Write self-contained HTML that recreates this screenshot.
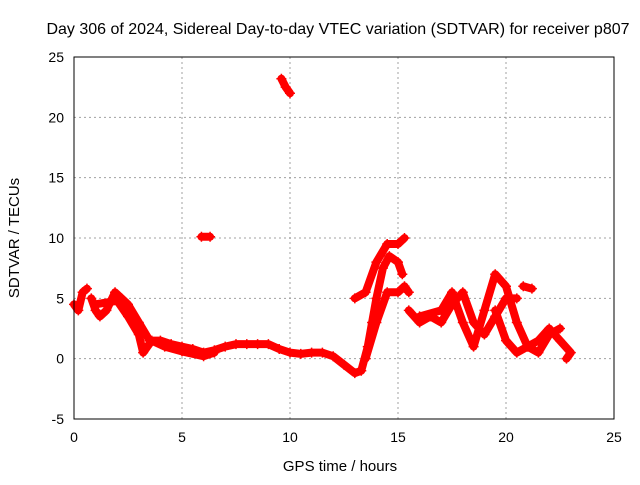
<!DOCTYPE html>
<html><head><meta charset="utf-8"><style>
body{margin:0;background:#fff;width:640px;height:480px;overflow:hidden}
text{font-family:"Liberation Sans",sans-serif;font-size:14px;fill:#000}
</style></head><body>
<svg id="chart" width="640" height="480" xmlns="http://www.w3.org/2000/svg">
<text x="338" y="34" text-anchor="middle" style="font-size:16px">Day 306 of 2024, Sidereal Day-to-day VTEC variation (SDTVAR) for receiver p807</text>
<text x="340" y="471" text-anchor="middle" style="font-size:15px">GPS time / hours</text>
<text transform="translate(19,238) rotate(-90)" text-anchor="middle" style="font-size:15px">SDTVAR / TECUs</text>
<g id="grid"></g><g id="ticks"></g><g id="marks"></g>
<rect x="74" y="57" width="540" height="362" fill="none" stroke="#000" stroke-width="1"/>
</svg>
<script>
const xTicks=[0,5,10,15,20,25];
const yTicks=[-5,0,5,10,15,20,25];
const trackStart=[[0,4.5],[0.2,4],[0.4,5.5],[0.6,5.8]];
const trackMain=[[0.8,5],[1,4],[1.2,3.5],[1.5,4],[1.9,5.5],[2.2,5],[2.5,4.5],[3,3],[3.5,1.5],[4,1.5],[4.5,1.2],[5,1],[5.5,0.8],[6,0.5],[6.5,0.7],[7,1],[7.5,1.2],[8,1.2],[8.5,1.2],[9,1.2],[9.5,0.8],[10,0.5],[10.5,0.4],[11,0.5],[11.5,0.5],[12,0.2],[12.5,-0.5],[13,-1.2],[13.3,-1],[13.6,1],[13.8,3],[14,5],[14.3,7.5],[14.6,8.5],[15,8],[15.2,7]];
const trackSecond=[[1,4.5],[2,4.8],[2.5,3.5],[3,2],[3.2,0.5],[3.6,1.5],[4.2,1],[5,0.6],[6,0.2],[6.5,0.5]];
const trackRise=[[13.5,0],[14,3],[14.5,5.5],[15,5.5],[15.3,6],[15.5,5.5]];
const trackHigh=[[13,5],[13.5,5.5],[14,8],[14.5,9.5],[15,9.5],[15.3,10]];
const trackLateA=[[15.5,4],[16,3],[16.5,3.5],[17,3],[17.5,4.5],[18,5.5],[18.5,3],[19,2],[19.5,3.5],[20,5],[20.5,5]];
const trackLateB=[[16,3.5],[17,4],[17.5,5.5],[18,3],[18.5,1],[19,4],[19.5,7],[20,6],[20.5,3],[21,1],[21.5,1.5],[22,2.5],[22.5,1.5],[23,0.5],[22.8,0]];
const trackLateC=[[19.5,4],[20,1.5],[20.5,0.5],[21,1],[21.5,0.5],[22,2],[22.5,2.5]];
const trackSpike=[[9.6,23.2],[9.8,22.5],[10,22]];
const trackTen=[[5.9,10.1],[6.3,10.1]];
const trackSix=[[20.8,6],[21.2,5.8]];
const tracks=[trackStart,trackMain,trackSecond,trackRise,trackHigh,trackLateA,trackLateB,trackLateC,trackSpike,trackTen,trackSix];
const NS="http://www.w3.org/2000/svg";
const X=v=>74+v*540/25, Y=v=>419-(v+5)*362/30;
function mk(t,a,p){const e=document.createElementNS(NS,t);for(const k in a)e.setAttribute(k,a[k]);p.appendChild(e);return e;}
const grid=document.getElementById('grid'),ticks=document.getElementById('ticks'),marks=document.getElementById('marks');
xTicks.forEach(v=>{
 if(v>0&&v<25){const g=mk('line',{x1:X(v),x2:X(v),y1:57,y2:419,stroke:'#a0a0a0','stroke-dasharray':'2,3'},grid);
 
 }
 const t=mk('text',{x:X(v),y:442,'text-anchor':'middle'},ticks);t.textContent=v;
 
 
});
yTicks.forEach(v=>{
 if(v>-5&&v<25){const g=mk('line',{x1:74,x2:614,y1:Y(v),y2:Y(v),stroke:'#a0a0a0','stroke-dasharray':'2,3'},grid);
 
 }
 const t=mk('text',{x:64,y:Y(v)+5,'text-anchor':'end'},ticks);t.textContent=v;
 
 
});
tracks.forEach(tr=>{
 const pl=mk('polyline',{points:tr.map(p=>X(p[0])+','+Y(p[1])).join(' '),fill:'none',stroke:'#f00','stroke-width':8,'stroke-linejoin':'round','stroke-linecap':'round'},marks);
 
 
 tr.forEach(p=>{
  const m=mk('path',{d:`M${X(p[0])-5},${Y(p[1])}h10M${X(p[0])},${Y(p[1])-5}v10`,stroke:'#f00','stroke-width':1.5},marks);
  
  
 });
});
</script>
</body></html>
